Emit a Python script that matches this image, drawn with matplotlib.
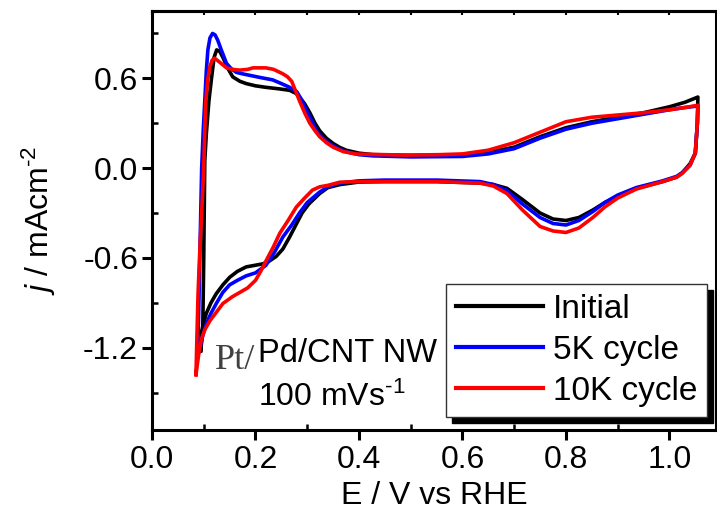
import matplotlib
matplotlib.use("Agg")
import matplotlib.pyplot as plt

plt.rcParams['font.family'] = ['Liberation Sans', 'DejaVu Sans']
plt.rcParams['mathtext.fontset'] = 'custom'
plt.rcParams['mathtext.rm'] = 'Liberation Sans'
plt.rcParams['mathtext.it'] = 'Liberation Sans:italic'

# ---- data (E in V vs RHE, j in mA cm^-2) ----
# each loop: anodic sweep up to 1.055 V, then cathodic sweep back
initial_E = [0.094, 0.098, 0.100, 0.102, 0.105, 0.110, 0.115, 0.120, 0.125, 0.131, 0.137,
             0.146, 0.156, 0.170, 0.182, 0.200, 0.220, 0.245, 0.266, 0.278, 0.285, 0.295,
             0.305, 0.315, 0.324, 0.337, 0.350, 0.362, 0.375, 0.400, 0.427, 0.500, 0.600,
             0.650, 0.700, 0.750, 0.800, 0.850, 0.900, 0.950, 1.000, 1.030, 1.055,
             1.054, 1.050, 1.040, 1.025, 1.014, 0.987, 0.936, 0.900, 0.875, 0.852, 0.825,
             0.800, 0.775, 0.750, 0.716, 0.686, 0.660, 0.634, 0.550, 0.450, 0.400, 0.363,
             0.340, 0.324, 0.303, 0.290, 0.278, 0.266, 0.253, 0.240, 0.225, 0.214, 0.198,
             0.182, 0.165, 0.150, 0.137, 0.124, 0.114, 0.105, 0.098, 0.095, 0.094]
initial_j = [-1.22, -1.10, -0.60, 0.05, 0.23, 0.45, 0.60, 0.74, 0.79, 0.78, 0.74,
             0.67, 0.61, 0.58, 0.565, 0.55, 0.54, 0.53, 0.52, 0.50, 0.475, 0.43,
             0.37, 0.30, 0.25, 0.20, 0.165, 0.14, 0.12, 0.10, 0.09, 0.085, 0.087,
             0.105, 0.14, 0.21, 0.27, 0.31, 0.34, 0.37, 0.41, 0.44, 0.475,
             0.30, 0.10, 0.03, -0.03, -0.06, -0.09, -0.135, -0.19, -0.23, -0.28, -0.33,
             -0.35, -0.34, -0.30, -0.21, -0.135, -0.11, -0.10, -0.09, -0.09, -0.093, -0.11,
             -0.13, -0.17, -0.24, -0.30, -0.38, -0.46, -0.54, -0.59, -0.625, -0.64, -0.65,
             -0.66, -0.69, -0.73, -0.78, -0.84, -0.90, -0.97, -1.06, -1.11, -1.22]

cyc5k_E = [0.088, 0.090, 0.093, 0.096, 0.099, 0.102, 0.105, 0.108, 0.112, 0.117, 0.122,
           0.127, 0.135, 0.144, 0.153, 0.163, 0.175, 0.189, 0.210, 0.233, 0.250, 0.266,
           0.275, 0.280, 0.290, 0.298, 0.308, 0.318, 0.330, 0.343, 0.360, 0.375, 0.400,
           0.427, 0.500, 0.600, 0.650, 0.700, 0.750, 0.800, 0.850, 0.900, 0.950, 1.000,
           1.030, 1.055,
           1.054, 1.050, 1.040, 1.025, 1.014, 0.987, 0.936, 0.900, 0.875, 0.852, 0.825,
           0.800, 0.775, 0.750, 0.716, 0.686, 0.660, 0.634, 0.550, 0.450, 0.400, 0.363,
           0.340, 0.324, 0.300, 0.285, 0.270, 0.253, 0.237, 0.220, 0.200, 0.182, 0.165,
           0.150, 0.137, 0.125, 0.114, 0.105, 0.098, 0.093, 0.088]
cyc5k_j = [-1.26, -1.00, -0.50, 0.00, 0.25, 0.45, 0.65, 0.79, 0.87, 0.90, 0.89,
           0.855, 0.78, 0.70, 0.665, 0.64, 0.63, 0.62, 0.605, 0.59, 0.565, 0.54,
           0.52, 0.51, 0.45, 0.39, 0.32, 0.25, 0.20, 0.165, 0.13, 0.11, 0.09,
           0.082, 0.075, 0.078, 0.095, 0.13, 0.20, 0.26, 0.30, 0.33, 0.36, 0.39,
           0.405, 0.415,
           0.30, 0.10, 0.02, -0.03, -0.055, -0.085, -0.13, -0.18, -0.23, -0.29, -0.35,
           -0.38, -0.37, -0.33, -0.24, -0.15, -0.11, -0.09, -0.08, -0.08, -0.085, -0.10,
           -0.125, -0.16, -0.23, -0.30, -0.38, -0.46, -0.56, -0.65, -0.70, -0.72, -0.75,
           -0.78, -0.83, -0.90, -0.97, -1.04, -1.12, -1.20, -1.26]

cyc10k_E = [0.085, 0.087, 0.089, 0.093, 0.096, 0.100, 0.102, 0.104, 0.108, 0.112, 0.116,
            0.121, 0.130, 0.144, 0.155, 0.170, 0.185, 0.195, 0.210, 0.220, 0.235, 0.253,
            0.262, 0.270, 0.277, 0.285, 0.295, 0.305, 0.315, 0.324, 0.337, 0.350, 0.370,
            0.395, 0.490, 0.556, 0.600, 0.650, 0.700, 0.750, 0.800, 0.850, 0.900, 0.950,
            1.000, 1.030, 1.055,
            1.054, 1.050, 1.040, 1.025, 1.014, 0.987, 0.936, 0.900, 0.875, 0.852, 0.825,
            0.800, 0.775, 0.750, 0.716, 0.686, 0.660, 0.634, 0.550, 0.450, 0.400, 0.363,
            0.340, 0.324, 0.310, 0.295, 0.279, 0.263, 0.247, 0.234, 0.221, 0.210, 0.200,
            0.185, 0.170, 0.155, 0.137, 0.125, 0.112, 0.102, 0.095, 0.090, 0.085]
cyc10k_j = [-1.38, -1.10, -0.84, -0.50, -0.30, 0.00, 0.25, 0.45, 0.60, 0.68, 0.72,
            0.735, 0.71, 0.67, 0.66, 0.655, 0.66, 0.67, 0.67, 0.67, 0.66, 0.63,
            0.61, 0.58, 0.52, 0.45, 0.37, 0.30, 0.25, 0.21, 0.17, 0.14, 0.11,
            0.094, 0.087, 0.09, 0.095, 0.12, 0.17, 0.24, 0.31, 0.34, 0.355, 0.37,
            0.39, 0.405, 0.42,
            0.30, 0.10, 0.02, -0.035, -0.06, -0.09, -0.14, -0.20, -0.26, -0.33, -0.40,
            -0.43, -0.42, -0.39, -0.28, -0.17, -0.12, -0.10, -0.09, -0.09, -0.09, -0.094,
            -0.115, -0.125, -0.147, -0.20, -0.26, -0.35, -0.435, -0.53, -0.615, -0.69, -0.75,
            -0.80, -0.83, -0.86, -0.905, -0.96, -1.02, -1.08, -1.15, -1.25, -1.38]

labels = ['Initial', '5K cycle', '10K cycle']
colors = ['black', '#0000ff', '#ff0000']

fig = plt.figure(figsize=(7.17, 5.16), dpi=100)
ax = fig.add_axes([152 / 717, 1 - 430 / 516, 564 / 717, 419 / 516])

series = [(initial_E, initial_j), (cyc5k_E, cyc5k_j), (cyc10k_E, cyc10k_j)]
for (E, j), lab, c in zip(series, labels, colors):
    ax.plot(E, j, color=c, lw=2.6, label=lab, solid_joinstyle='round')

ax.set_xlim(0, 1.09)
ax.set_ylim(-1.75, 1.05)
ax.set_xticks([0.0, 0.2, 0.4, 0.6, 0.8, 1.0])
ax.set_xticks([0.1, 0.3, 0.5, 0.7, 0.9], minor=True)
ax.set_yticks([-1.2, -0.6, 0.0, 0.6])
ax.set_yticks([-1.5, -0.9, -0.3, 0.3, 0.9], minor=True)
ax.set_xticklabels(['0.0', '0.2', '0.4', '0.6', '0.8', '1.0'])
ax.set_yticklabels(['-1.2', '-0.6', '0.0', '0.6'])

for s in ax.spines.values():
    s.set_linewidth(2.2)
ax.tick_params(which='major', direction='out', length=7, width=2.2, labelsize=23, pad=3)
ax.tick_params(which='minor', direction='in', length=4, width=1.8)
ax.tick_params(axis='x', which='major', pad=4)

# small inward ticks along the top frame
top = ax.secondary_xaxis('top')
top.set_xticks([0.0, 0.1, 0.2, 0.3, 0.4, 0.5, 0.6, 0.7, 0.8, 0.9, 1.0])
top.tick_params(direction='in', length=3, width=1.5, labeltop=False)
top.spines['top'].set_linewidth(2.2)

ax.set_xlabel('E / V vs RHE', fontsize=23, labelpad=4)
ax.set_ylabel(r'$\it{j}$ / mAcm$^{\text{-2}}$', fontsize=23, labelpad=18)

ax.text(0.112, 0.146, 'Pt/', transform=ax.transAxes, fontsize=26,
        family='Liberation Serif', color='#404040', va='baseline', ha='left')
ax.text(0.188, 0.162, 'Pd/CNT NW', transform=ax.transAxes, fontsize=23.5,
        va='baseline', ha='left')
ax.text(0.188, 0.057, r'100 mVs$^{\text{-1}}$', transform=ax.transAxes, fontsize=23,
        va='baseline', ha='left')

# legend with a solid black drop shadow
leg = ax.legend(loc='lower right', bbox_to_anchor=(0.984, 0.031), borderaxespad=0,
                fontsize=24, fancybox=False, frameon=True, framealpha=1, handlelength=2.6,
                handletextpad=0.3, labelspacing=0.3, borderpad=0.3,
                shadow={'ox': 4.3, 'oy': -4.3, 'facecolor': 'black',
                        'edgecolor': 'black', 'alpha': 1})
leg.get_frame().set_facecolor('white')
leg.get_frame().set_edgecolor('#333333')
leg.get_frame().set_linewidth(1.0)
for ln in leg.get_lines():
    ln.set_linewidth(3)

fig.savefig('out.png', dpi=100)
